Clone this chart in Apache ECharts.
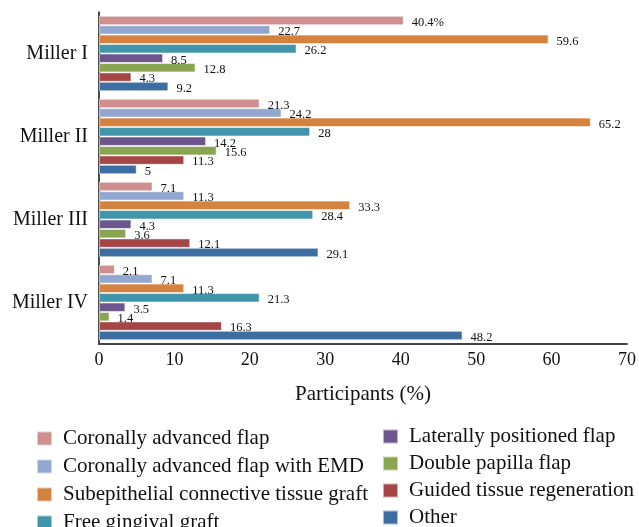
<!DOCTYPE html>
<html>
<head>
<meta charset="utf-8">
<script src="https://cdn.jsdelivr.net/npm/echarts@6/dist/echarts.min.js"></script>
<style>
  html, body { margin: 0; padding: 0; background: #fff; }
  #chart { width: 639px; height: 527px; }
</style>
</head>
<body>
<div id="chart"></div>
<script>
// Recession classes on the category axis
const categories = ['Miller I', 'Miller II', 'Miller III', 'Miller IV'];

// Treatment names, in legend / bar order
const treatments = [
  'Coronally advanced flap',
  'Coronally advanced flap with EMD',
  'Subepithelial connective tissue graft',
  'Free gingival graft',
  'Laterally positioned flap',
  'Double papilla flap',
  'Guided tissue regeneration',
  'Other'
];

// Share of participants (%) per treatment, one value per Miller class
const coronallyAdvanced    = [40.4, 21.3, 7.1, 2.1];
const coronallyAdvancedEMD = [22.7, 24.2, 11.3, 7.1];
const subepithelialCTG     = [59.6, 65.2, 33.3, 11.3];
const freeGingivalGraft    = [26.2, 28, 28.4, 21.3];
const laterallyPositioned  = [8.5, 14.2, 4.3, 3.5];
const doublePapilla        = [12.8, 15.6, 3.6, 1.4];
const guidedTissueRegen    = [4.3, 11.3, 12.1, 16.3];
const other                = [9.2, 5, 29.1, 48.2];

const seriesValues = [
  coronallyAdvanced, coronallyAdvancedEMD, subepithelialCTG, freeGingivalGraft,
  laterallyPositioned, doublePapilla, guidedTissueRegen, other
];

// x-axis ticks
const xTicks = [0, 10, 20, 30, 40, 50, 60, 70];

const colors = ['#CF8F8F', '#93A8D0', '#D5823F', '#4195AA', '#6C568D', '#89A552', '#A54646', '#3D6EA1'];
const font = '"Liberation Serif", "DejaVu Serif", serif';

const chart = echarts.init(document.getElementById('chart'));

const series = treatments.map((name, i) => ({
  name,
  type: 'bar',
  data: seriesValues[i],
  barGap: '0%',
  barCategoryGap: '9%',
  itemStyle: { color: colors[i], borderColor: 'rgba(255,255,255,0.55)', borderWidth: 1 },
  label: {
    show: true,
    position: 'right',
    distance: 8,
    offset: [0, 2],
    color: '#111',
    fontFamily: font,
    fontSize: 12.5,
    formatter: p => (i === 0 && p.dataIndex === 0) ? p.value + '%' : String(p.value)
  }
}));

const legendText = { fontFamily: font, fontSize: 21, color: '#111', padding: [0, 0, 0, 6] };

// Narrow horizontal legends: one entry per row, free to run past the bottom edge
const legendBase = {
  orient: 'horizontal',
  width: 10,
  itemWidth: 15,
  itemHeight: 14,
  icon: 'rect',
  textStyle: legendText
};

chart.setOption({
  animation: false,
  color: colors,
  grid: { left: 99, right: 10, top: 12, bottom: 183, containLabel: false },
  legend: [
    Object.assign({}, legendBase, { data: treatments.slice(0, 4), left: 31, top: 423, itemGap: 7 }),
    Object.assign({}, legendBase, { data: treatments.slice(4), left: 377, top: 421, itemGap: 6 })
  ],
  xAxis: {
    type: 'value',
    min: xTicks[0],
    max: xTicks[xTicks.length - 1],
    interval: 10,
    name: 'Participants (%)',
    nameLocation: 'middle',
    nameGap: 40,
    nameTextStyle: { fontFamily: font, fontSize: 21, color: '#111' },
    axisLine: { show: true, lineStyle: { color: '#444', width: 2 } },
    axisTick: { show: false },
    splitLine: { show: false },
    axisLabel: { fontFamily: font, fontSize: 18, color: '#111', margin: 7 }
  },
  yAxis: {
    type: 'category',
    data: categories,
    inverse: true,
    axisLine: { show: true, lineStyle: { color: '#111', width: 1.5 } },
    axisTick: { show: false },
    axisLabel: { fontFamily: font, fontSize: 20, color: '#111', margin: 11 }
  },
  series
});
</script>
</body>
</html>
